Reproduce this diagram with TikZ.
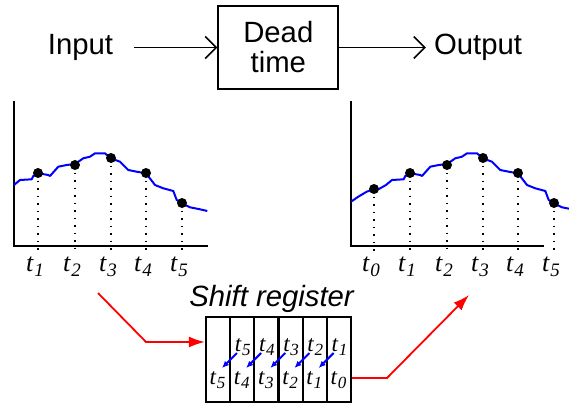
\documentclass[tikz,border=0pt]{standalone}
\usepackage{fontspec}
\setmainfont{Liberation Serif}
\setsansfont{Liberation Sans}
\usetikzlibrary{arrows.meta,calc}
\newcommand{\gt}[1]{\textit{t}\kern0.3pt\raisebox{-5pt}{\fontsize{19}{19}\selectfont\textit{#1}}}
\newcommand{\rt}[1]{\textit{t}\kern0.3pt\raisebox{-4.5pt}{\fontsize{17}{17}\selectfont\textit{#1}}}
\begin{document}
\begin{tikzpicture}[x=1pt,y=-1pt,
  lbl/.style={font=\sffamily\fontsize{29.3}{30}\selectfont, inner sep=0pt},
  flow/.style={line width=1.5pt, -{Straight Barb[length=11pt,width=22pt,line width=1.5pt]}},
  axis/.style={line width=2.5pt, line cap=rect},
  curve/.style={blue, line width=2pt, line join=round},
  dotline/.style={line width=1.8pt, dash pattern=on 1.5pt off 6pt},
  sample/.style={fill=black, circle, inner sep=0pt, minimum size=10pt},
  glab/.style={font=\fontsize{26}{26}\selectfont, inner sep=0pt, anchor=base},
  rlab/.style={font=\fontsize{23}{23}\selectfont, inner sep=0pt, anchor=base},
  regline/.style={line width=2.2pt},
  redarrow/.style={red, line width=1.8pt, line join=miter, -{Latex[length=16pt,width=11pt]}},
  shiftarrow/.style={blue, line width=2pt, -{Latex[length=7pt,width=6pt]}}
]
\useasboundingbox (0,0) rectangle (569,404);

% ---------- top block diagram ----------
\node[lbl, anchor=base] (in) at (80.5,54) {Input};
\node[draw, line width=2pt, minimum width=120pt, minimum height=83pt, inner sep=0pt] (dt) at (278.3,47.5) {};
\node[lbl, anchor=base] (dead) at (278.3,42) {Dead};
\node[lbl, anchor=base] (time) at (278.3,72) {time};
\node[lbl, anchor=base] (out) at (478,54) {Output};
\draw[flow, shorten <=21pt] (in.east |- dt) -- (dt.west);
\draw[flow, shorten >=8pt] (dt.east) -- (dt.east -| out.west);

% ---------- left graph (input) ----------
\draw[axis] (14,102) -- (14,246) -- (207,246);
\draw[curve] plot coordinates {(14,185) (20,180) (31.7,179.3) (33.3,176) (38.3,173.3)
 (48.3,175) (50,176) (58.3,166.7) (66.7,165) (75,164) (83.3,158.3) (90,156.7)
 (95,153.3) (105,153.3) (110.7,158.3) (120,161.7) (128.3,170) (136.7,171.7)
 (146,173.3) (155,185) (163.3,188.3) (173.3,191) (176.7,200) (182,203.3)
 (190,207.3) (200,209.3) (207.3,211)};
\foreach \n/\x/\y in {1/38/173,2/75/165,3/111/158,4/146/173,5/182/203}{
  \draw[dotline] (\x,\y) -- (\x,254);
  \node[sample] (ia\n) at (\x,\y) {};
  \node[glab] (il\n) at (\x-3,271) {\gt{\n}};
}

% ---------- right graph (output) ----------
\draw[axis] (351,102) -- (351,246) -- (543,246);
\draw[curve] plot coordinates {(351,201.7) (358.3,196.7) (366.7,191.7) (374.3,189) (378,189.5)
 (386,185) (392,180) (403.7,179.3) (405.3,176) (410.3,173.3)
 (420.3,175) (422,176) (430.3,166.7) (438.7,165) (447,164) (455.3,158.3) (462,156.7)
 (467,153.3) (477,153.3) (482.7,158.3) (492,161.7) (500.3,170) (508.7,171.7)
 (518,173.3) (527,185) (535.3,188.3) (545.3,191) (548.7,200) (554,203.3)
 (562,207.3) (569,208.7)};
\foreach \n/\x/\y in {0/374/189,1/410/173,2/447/165,3/483/158,4/518/173,5/554/203}{
  \draw[dotline] (\x,\y) -- (\x,254);
  \node[sample] (oa\n) at (\x,\y) {};
  \node[glab] (ol\n) at (\x-3,271) {\gt{\n}};
}

% ---------- shift register ----------
\node[font=\sffamily\itshape\fontsize{29.3}{30}\selectfont, inner sep=0pt, anchor=base] (title) at (271.5,306) {Shift register};
\node[draw, regline, minimum width=145pt, minimum height=85pt, inner sep=0pt] (reg) at (278.5,359.5) {};
\foreach \i in {1,...,5}{
  \draw[regline] (206+24.17*\i,317) -- (206+24.17*\i,402);
}
\foreach \k/\n in {2/5,3/4,4/3,5/2,6/1}{
  \node[rlab] (rt\k) at (206+24.17*\k-11.6,351) {\rt{\n}};
}
\foreach \k/\n in {1/5,2/4,3/3,4/2,5/1,6/0}{
  \node[rlab] (rb\k) at (206+24.17*\k-12.6,384) {\rt{\n}};
}
\foreach \k in {1,...,5}{
  \draw[shiftarrow] (206+24.17*\k+6.8,353) -- (206+24.17*\k-8.2,368);
}

% ---------- red arrows ----------
\coordinate (rs) at (98,293);
\coordinate (rk) at (146,342);
\draw[redarrow] (rs) -- (rk) -- (rk -| reg.west);
\coordinate (rk2) at (387,378);
\coordinate (re) at (469,295);
\draw[redarrow] (reg.east |- rk2) -- (rk2) -- (re);
\end{tikzpicture}
\end{document}
